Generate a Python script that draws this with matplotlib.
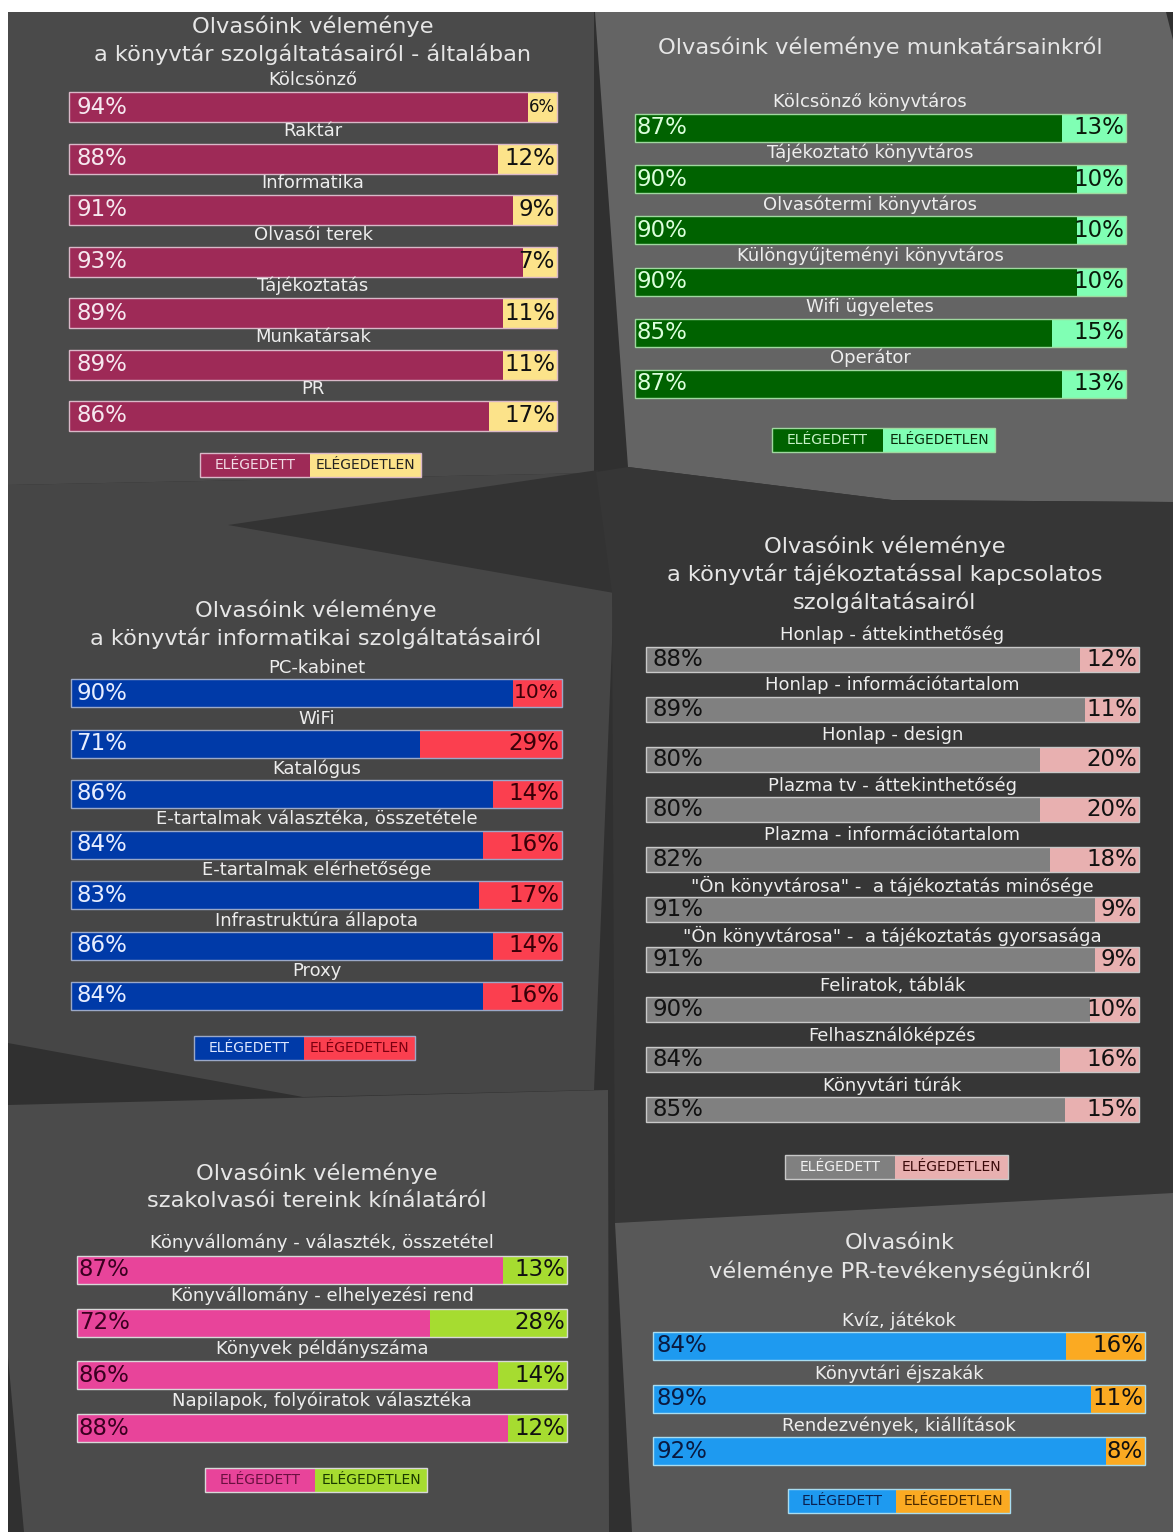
import matplotlib
matplotlib.use("Agg")
import matplotlib.pyplot as plt
from matplotlib.patches import Polygon, Rectangle

plt.rcParams['font.family'] = ['DejaVu Sans']

W, H = 1173, 1532

# ---------------- data ----------------
legend_labels = ["ELÉGEDETT", "ELÉGEDETLEN"]

p1_title = ["Olvasóink véleménye", "a könyvtár szolgáltatásairól - általában"]
p1_cats = ["Kölcsönző", "Raktár", "Informatika", "Olvasói terek", "Tájékoztatás", "Munkatársak", "PR"]
p1_sat = [94, 88, 91, 93, 89, 89, 86]
p1_dis = [6, 12, 9, 7, 11, 11, 17]

p2_title = ["Olvasóink véleménye munkatársainkról"]
p2_cats = ["Kölcsönző könyvtáros", "Tájékoztató könyvtáros", "Olvasótermi könyvtáros",
           "Különgyűjteményi könyvtáros", "Wifi ügyeletes", "Operátor"]
p2_sat = [87, 90, 90, 90, 85, 87]
p2_dis = [13, 10, 10, 10, 15, 13]

p3_title = ["Olvasóink véleménye", "a könyvtár informatikai szolgáltatásairól"]
p3_cats = ["PC-kabinet", "WiFi", "Katalógus", "E-tartalmak választéka, összetétele",
           "E-tartalmak elérhetősége", "Infrastruktúra állapota", "Proxy"]
p3_sat = [90, 71, 86, 84, 83, 86, 84]
p3_dis = [10, 29, 14, 16, 17, 14, 16]

p4_title = ["Olvasóink véleménye", "a könyvtár tájékoztatással kapcsolatos", "szolgáltatásairól"]
p4_cats = ["Honlap - áttekinthetőség", "Honlap - információtartalom", "Honlap - design",
           "Plazma tv - áttekinthetőség", "Plazma - információtartalom",
           "\"Ön könyvtárosa\" -  a tájékoztatás minősége",
           "\"Ön könyvtárosa\" -  a tájékoztatás gyorsasága",
           "Feliratok, táblák", "Felhasználóképzés", "Könyvtári túrák"]
p4_sat = [88, 89, 80, 80, 82, 91, 91, 90, 84, 85]
p4_dis = [12, 11, 20, 20, 18, 9, 9, 10, 16, 15]

p5_title = ["Olvasóink véleménye", "szakolvasói tereink kínálatáról"]
p5_cats = ["Könyvállomány - választék, összetétel", "Könyvállomány - elhelyezési rend",
           "Könyvek példányszáma", "Napilapok, folyóiratok választéka"]
p5_sat = [87, 72, 86, 88]
p5_dis = [13, 28, 14, 12]

p6_title = ["Olvasóink", "véleménye PR-tevékenységünkről"]
p6_cats = ["Kvíz, játékok", "Könyvtári éjszakák", "Rendezvények, kiállítások"]
p6_sat = [84, 89, 92]
p6_dis = [16, 11, 8]

# ---------------- figure ----------------
fig = plt.figure(figsize=(W / 100, H / 100), dpi=100)
fig.patch.set_facecolor("white")

TITLE_FS = 16.2
CAT_FS = 13
VAL_FS = 16.5
LEG_FS = 10


def fx(x):
    return x / W


def fy(y):
    return 1 - y / H


def poly(pts, color):
    p = Polygon([(fx(x), fy(y)) for x, y in pts], closed=True, transform=fig.transFigure,
                facecolor=color, edgecolor="none", zorder=-10)
    fig.add_artist(p)


# background shapes
poly([(8, 12), (1173, 12), (1173, 1532), (8, 1532)], "#303030")
poly([(8, 12), (594, 12), (594, 473), (8, 485)], "#4a4a4a")
poly([(595, 12), (1166, 12), (1173, 40), (1173, 502), (892, 500), (628, 467)], "#646464")
poly([(8, 485), (594, 473), (614, 593), (594, 1090), (303, 1097), (8, 1043)], "#464646")
poly([(228, 525), (598, 470), (614, 593)], "#333333")
poly([(628, 467), (892, 500), (1173, 502), (1173, 1193), (615, 1223), (612, 593), (596, 472)], "#363636")
poly([(8, 1105), (608, 1090), (609, 1532), (24, 1532), (8, 1357)], "#4b4b4b")
poly([(615, 1223), (1173, 1193), (1173, 1532), (632, 1532)], "#585858")


def panel(title, title_cx, title_ys, cats, sat, dis, x0, x1, yc0, pitch, bh, loff,
          c_sat, c_dis, edge, tc_sat, tc_dis, sat_off, dis_off, legend_box,
          lc_sat, lc_dis, lab_cx=None, dis_sizes=None, lab_color="#ededed"):
    n = len(cats)
    top = yc0 - pitch / 2
    bottom = yc0 + (n - 0.5) * pitch
    ax = fig.add_axes([fx(x0), fy(bottom), (x1 - x0) / W, (bottom - top) / H])
    ax.set_xlim(0, 100)
    ax.set_ylim(n - 0.5, -0.5)
    ax.axis("off")
    ys = list(range(n))
    h = bh / pitch
    ax.barh(ys, sat, height=h, color=c_sat, linewidth=0)
    ax.barh(ys, dis, left=sat, height=h, color=c_dis, linewidth=0)
    ax.barh(ys, [100] * n, height=h, fill=False, edgecolor=edge, linewidth=1.0, clip_on=False)
    if lab_cx is None:
        lab_cx = (x0 + x1) / 2
    lx = (lab_cx - x0) / (x1 - x0) * 100
    for i, c in enumerate(cats):
        ax.text(lx, i - loff / pitch, c, ha="center", va="center", fontsize=CAT_FS,
                color=lab_color, clip_on=False)
        ax.annotate(f"{sat[i]}%", xy=(0, i), xytext=(sat_off * 0.72, 0),
                    textcoords="offset points", ha="left", va="center",
                    fontsize=VAL_FS, color=tc_sat, annotation_clip=False)
        fs = dis_sizes[i] if dis_sizes else VAL_FS
        ax.annotate(f"{dis[i]}%", xy=(100, i), xytext=(-dis_off * 0.72, 0),
                    textcoords="offset points", ha="right", va="center",
                    fontsize=fs, color=tc_dis, annotation_clip=False)
    for t, ty in zip(title, title_ys):
        fig.text(fx(title_cx), fy(ty), t, ha="center", va="center", fontsize=TITLE_FS,
                 color="#e6e6e6")
    # legend box
    lx0, lx1, ly0, ly1, lsplit = legend_box
    fig.add_artist(Rectangle((fx(lx0), fy(ly1)), (lsplit - lx0) / W, (ly1 - ly0) / H,
                             transform=fig.transFigure, facecolor=c_sat, edgecolor="none"))
    fig.add_artist(Rectangle((fx(lsplit), fy(ly1)), (lx1 - lsplit) / W, (ly1 - ly0) / H,
                             transform=fig.transFigure, facecolor=c_dis, edgecolor="none"))
    fig.add_artist(Rectangle((fx(lx0), fy(ly1)), (lx1 - lx0) / W, (ly1 - ly0) / H,
                             transform=fig.transFigure, fill=False, edgecolor=edge,
                             linewidth=1.0))
    fig.text(fx((lx0 + lsplit) / 2), fy((ly0 + ly1) / 2), legend_labels[0], ha="center",
             va="center", fontsize=LEG_FS, color=lc_sat)
    fig.text(fx((lsplit + lx1) / 2), fy((ly0 + ly1) / 2), legend_labels[1], ha="center",
             va="center", fontsize=LEG_FS, color=lc_dis)


panel(p1_title, 313, [26, 54], p1_cats, p1_sat, p1_dis, 69, 557, 107, 51.5, 30, 27,
      "#9e2a57", "#fce38a", "#d9b8c8", "#f6e8ef", "#111111", 8, 2,
      (200, 421, 453, 477, 310), "#f2dce6", "#222222",
      dis_sizes=[12, VAL_FS, VAL_FS, VAL_FS, VAL_FS, VAL_FS, VAL_FS])

panel(p2_title, 880, [47], p2_cats, p2_sat, p2_dis, 635, 1126, 128, 51.2, 28, 26,
      "#006200", "#80ffb4", "#9fd89f", "#dcffdc", "#0a1a0a", 2, 2,
      (772, 995, 428, 452, 883), "#c8f2c8", "#0a2a0a", lab_cx=870)

panel(p3_title, 316, [610, 638], p3_cats, p3_sat, p3_dis, 71, 562, 693, 50.5, 28, 25,
      "#003aa8", "#fb3f4f", "#9aa8c8", "#e8eeff", "#3a0008", 5, 3,
      (194, 415, 1036, 1060, 304), "#dfe8ff", "#7a0010",
      dis_sizes=[14.5, VAL_FS, VAL_FS, VAL_FS, VAL_FS, VAL_FS, VAL_FS])

panel(p4_title, 885, [546, 574, 602], p4_cats, p4_sat, p4_dis, 646, 1139, 659, 50.1, 25, 24,
      "#808080", "#e8b0b0", "#c8c8c8", "#111111", "#111111", 6, 2,
      (785, 1008, 1155, 1179, 895), "#f2f2f2", "#3a0a0a")

panel(p5_title, 317, [1173, 1201], p5_cats, p5_sat, p5_dis, 77, 567, 1270, 52.7, 28, 27,
      "#e8449a", "#a6dc30", "#d8d8d8", "#3a0020", "#111111", 2, 2,
      (205, 427, 1468, 1492, 315), "#6a1040", "#1a3a00")

panel(p6_title, 900, [1243, 1271], p6_cats, p6_sat, p6_dis, 653, 1145, 1346, 52.5, 28, 25,
      "#1e9af0", "#fbaa22", "#a8dcf0", "#0a1a40", "#111111", 3, 2,
      (788, 1010, 1489, 1513, 896), "#0a2050", "#4a2a00")

fig.savefig("out.png", dpi=100, facecolor=fig.get_facecolor())
